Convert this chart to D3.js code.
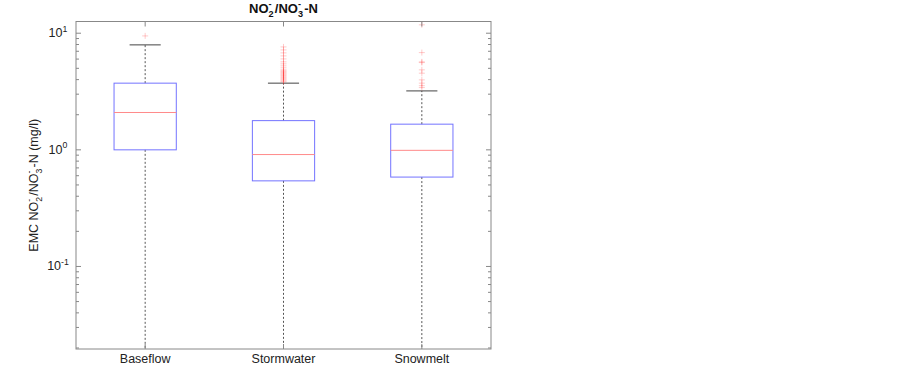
<!DOCTYPE html>
<html>
<head>
<meta charset="utf-8">
<script src="https://cdn.jsdelivr.net/npm/d3@7"></script>
<style>
  body { margin: 0; background: #fff; }
  text { font-family: "Liberation Sans", Arial, sans-serif; }
</style>
</head>
<body>
<div id="chart"></div>
<script>
// box statistics (mg/l)
const categories = ["Baseflow", "Stormwater", "Snowmelt"];
const q1 = [1.0, 0.542, 0.584];
const medians = [2.09, 0.911, 0.99];
const q3 = [3.73, 1.78, 1.66];
const whiskerHigh = [7.94, 3.73, 3.20];
const whiskerLow = [0.001, 0.001, 0.001]; // below the axis, clipped
const outliers = [
  [9.48],
  [7.63, 7.19, 6.78, 6.39, 6.02, 5.68, 5.46, 5.25, 5.05, 4.85, 4.75, 4.66, 4.57,
   4.48, 4.39, 4.31, 4.22, 4.14, 4.06, 3.98, 3.90, 3.83],
  [11.8, 6.82, 5.68, 5.60, 4.85, 4.54, 3.98, 3.73, 3.55, 3.42]
];
const yTickValues = [0.1, 1, 10];
const yTickExp = ["-1", "0", "1"];
const yDomain = [0.0196, 12.6];

const W = 903, H = 374;
const margin = {top: 21.5, right: 412, bottom: 25, left: 76};
const x0 = margin.left, x1 = W - margin.right;
const y0 = margin.top, y1 = H - margin.bottom;

const svg = d3.select("#chart").append("svg")
  .attr("width", W).attr("height", H);

const x = d3.scaleBand().domain(categories).range([x0, x1])
  .paddingInner(0.55).paddingOuter(0.275);
const y = d3.scaleLog().domain(yDomain).range([y1, y0]);

svg.append("clipPath").attr("id", "clip")
  .append("rect").attr("x", x0).attr("y", y0).attr("width", x1 - x0).attr("height", y1 - y0);

// text with sup / stacked sub+sup pieces; baseline restored on the next piece
function richText(sel, parts, size) {
  const small = size * 0.7;
  let back = 0, gap = 0;
  parts.forEach(p => {
    if (p.k === "n") {
      sel.append("tspan").attr("dy", back).attr("dx", gap).text(p.t);
      back = 0; gap = 0;
    } else if (p.k === "sup") {
      sel.append("tspan").attr("dy", back - size * 0.45).attr("font-size", small).text(p.t);
      back = size * 0.45; gap = 0;
    } else if (p.k === "subsup") {
      sel.append("tspan").attr("dy", back + size * 0.3).attr("font-size", small).text(p.t);
      sel.append("tspan").attr("dx", -small * 0.556).attr("dy", -size * 0.75)
        .attr("font-size", small).text(p.s);
      back = size * 0.45; gap = small * 0.35;
    }
  });
}

const plot = svg.append("g").attr("clip-path", "url(#clip)");

categories.forEach((c, i) => {
  const cx = x(c) + x.bandwidth() / 2;
  const bw = x.bandwidth();
  // whiskers
  plot.append("line").attr("x1", cx).attr("x2", cx)
    .attr("y1", y(q3[i])).attr("y2", y(whiskerHigh[i]))
    .attr("stroke", "#555").attr("stroke-dasharray", "2,2");
  plot.append("line").attr("x1", cx).attr("x2", cx)
    .attr("y1", y(q1[i])).attr("y2", y(whiskerLow[i]))
    .attr("stroke", "#555").attr("stroke-dasharray", "2,2");
  // caps
  plot.append("line").attr("x1", cx - bw / 4).attr("x2", cx + bw / 4)
    .attr("y1", y(whiskerHigh[i])).attr("y2", y(whiskerHigh[i]))
    .attr("stroke", "#444");
  // box
  plot.append("rect").attr("x", x(c)).attr("width", bw)
    .attr("y", y(q3[i])).attr("height", y(q1[i]) - y(q3[i]))
    .attr("fill", "none").attr("stroke", "#7373ff");
  // median
  plot.append("line").attr("x1", x(c)).attr("x2", x(c) + bw)
    .attr("y1", y(medians[i])).attr("y2", y(medians[i]))
    .attr("stroke", "#ff8a8a");
  // outliers
  plot.selectAll(null).data(outliers[i]).enter().append("path")
    .attr("d", d => `M${cx - 3},${y(d)}h6M${cx},${y(d) - 3}v6`)
    .attr("stroke", "#ff3030").attr("stroke-opacity", 0.25).attr("fill", "none");
});

// axes box
const axisColor = "#888";
svg.append("rect").attr("x", x0).attr("y", y0).attr("width", x1 - x0).attr("height", y1 - y0)
  .attr("fill", "none").attr("stroke", axisColor);

// y ticks (inside, both sides), log minor ticks
const minor = [];
for (let e = -2; e <= 1; e++) for (let m = 2; m <= 9; m++) {
  const v = m * Math.pow(10, e);
  if (v >= yDomain[0] && v <= yDomain[1]) minor.push(v);
}
[[x0, 1], [x1, -1]].forEach(([xx, dir]) => {
  svg.selectAll(null).data(yTickValues).enter().append("line")
    .attr("x1", xx).attr("x2", xx + dir * 5)
    .attr("y1", d => y(d)).attr("y2", d => y(d)).attr("stroke", axisColor);
  svg.selectAll(null).data(minor).enter().append("line")
    .attr("x1", xx).attr("x2", xx + dir * 3)
    .attr("y1", d => y(d)).attr("y2", d => y(d)).attr("stroke", axisColor);
});

// x ticks top & bottom
categories.forEach(c => {
  const cx = x(c) + x.bandwidth() / 2;
  svg.append("line").attr("x1", cx).attr("x2", cx).attr("y1", y0).attr("y2", y0 + 5).attr("stroke", axisColor);
  svg.append("line").attr("x1", cx).attr("x2", cx).attr("y1", y1).attr("y2", y1 - 5).attr("stroke", axisColor);
  svg.append("text").attr("x", cx).attr("y", y1 + 14).attr("text-anchor", "middle")
    .attr("font-size", 12.5).attr("fill", "#222").text(c);
});

// y tick labels 10^n
yTickValues.forEach((v, i) => {
  const t = svg.append("text").attr("x", x0 - 18).attr("y", y(v) + 4)
    .attr("text-anchor", "middle").attr("font-size", 12.5).attr("fill", "#222");
  richText(t, [{k: "n", t: "10"}, {k: "sup", t: yTickExp[i]}], 12.5);
});

// y label
const yl = svg.append("text")
  .attr("transform", `translate(38,${(y0 + y1) / 2}) rotate(-90)`)
  .attr("text-anchor", "middle").attr("font-size", 12.5).attr("fill", "#222");
richText(yl, [
  {k: "n", t: "EMC NO"}, {k: "subsup", t: "2", s: "-"},
  {k: "n", t: "/NO"}, {k: "subsup", t: "3", s: "-"}, {k: "n", t: "-N (mg/l)"}
], 12.5);

// title
const tt = svg.append("text").attr("x", (x0 + x1) / 2).attr("y", 13)
  .attr("text-anchor", "middle").attr("font-size", 13).attr("font-weight", "bold").attr("fill", "#111");
richText(tt, [
  {k: "n", t: "NO"}, {k: "subsup", t: "2", s: "-"},
  {k: "n", t: "/NO"}, {k: "subsup", t: "3", s: "-"}, {k: "n", t: "-N"}
], 13);
</script>
</body>
</html>
